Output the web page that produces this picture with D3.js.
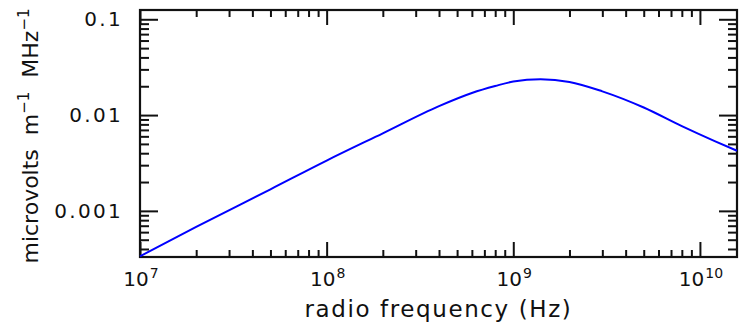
<!DOCTYPE html>
<html>
<head>
<meta charset="utf-8">
<script src="https://cdn.jsdelivr.net/npm/d3@7"></script>
<style>
  html, body { margin: 0; padding: 0; background: #fff; }
  svg { display: block; }
  text { font-family: "DejaVu Sans", "Liberation Sans", sans-serif; fill: #111; }
</style>
</head>
<body>
<svg id="chart" width="742" height="330"></svg>
<script>
// ---- data ----
const frequencies = [1e7, 2e7, 5e7, 1e8, 2e8, 4e8, 6e8, 8e8, 1e9, 1.4e9, 2e9, 3e9, 5e9, 8e9, 1.2e10, 1.58e10];
const fieldValues = [3.36e-4, 6.8e-4, 1.68e-3, 3.35e-3, 6.45e-3, 0.0124, 0.0170, 0.0201, 0.0224, 0.0236, 0.0222, 0.0177, 0.0120, 0.00767, 0.00535, 0.00424];
const xDomain = [1e7, 1.58e10];
const yDomain = [3.3e-4, 0.125];
const xMajorTicks = [1e7, 1e8, 1e9, 1e10];
const xTickExponents = ["7", "8", "9", "10"];
const yMajorTicks = [0.001, 0.01, 0.1];
const yTickLabels = ["0.001", "0.01", "0.1"];
const xTitle = "radio frequency (Hz)";

// ---- layout ----
const W = 742, H = 330;
const L = 140, R = 737, T = 10, B = 257;

const svg = d3.select("#chart");
const x = d3.scaleLog().domain(xDomain).range([L, R]);
const y = d3.scaleLog().domain(yDomain).range([B, T]);

const isPow10 = v => Math.abs(Math.log10(v) - Math.round(Math.log10(v))) < 1e-9;
const xMinor = x.ticks().filter(v => !isPow10(v));
const yMinor = y.ticks().filter(v => !isPow10(v));

function styleAxis(g) {
  g.select(".domain").remove();
  g.selectAll(".tick line").attr("stroke", "#111").attr("stroke-width", 2);
  g.selectAll(".tick text").remove();
}

// bottom & top ticks (inward)
const xMajLen = 15, xMinLen = 7, yMajLen = 18, yMinLen = 9;
svg.append("g").attr("transform", `translate(0,${B})`)
  .call(d3.axisBottom(x).tickValues(xMinor).tickSize(-xMinLen).tickFormat("")).call(styleAxis);
svg.append("g").attr("transform", `translate(0,${B})`)
  .call(d3.axisBottom(x).tickValues(xMajorTicks).tickSize(-xMajLen).tickFormat("")).call(styleAxis);
svg.append("g").attr("transform", `translate(0,${T})`)
  .call(d3.axisTop(x).tickValues(xMinor).tickSize(-xMinLen).tickFormat("")).call(styleAxis);
svg.append("g").attr("transform", `translate(0,${T})`)
  .call(d3.axisTop(x).tickValues(xMajorTicks).tickSize(-xMajLen).tickFormat("")).call(styleAxis);
// left & right ticks (inward)
svg.append("g").attr("transform", `translate(${L},0)`)
  .call(d3.axisLeft(y).tickValues(yMinor).tickSize(-yMinLen).tickFormat("")).call(styleAxis);
svg.append("g").attr("transform", `translate(${L},0)`)
  .call(d3.axisLeft(y).tickValues(yMajorTicks).tickSize(-yMajLen).tickFormat("")).call(styleAxis);
svg.append("g").attr("transform", `translate(${R},0)`)
  .call(d3.axisRight(y).tickValues(yMinor).tickSize(-yMinLen).tickFormat("")).call(styleAxis);
svg.append("g").attr("transform", `translate(${R},0)`)
  .call(d3.axisRight(y).tickValues(yMajorTicks).tickSize(-yMajLen).tickFormat("")).call(styleAxis);

// frame
svg.append("rect").attr("x", L).attr("y", T).attr("width", R - L).attr("height", B - T)
  .attr("fill", "none").attr("stroke", "#111").attr("stroke-width", 2.2);

// curve
const data = frequencies.map((f, i) => ({ f, v: fieldValues[i] }));
svg.append("path").datum(data)
  .attr("fill", "none").attr("stroke", "#0000ff").attr("stroke-width", 2)
  .attr("d", d3.line().x(d => x(d.f)).y(d => y(d.v)).curve(d3.curveMonotoneX));

// x tick labels
const xl = svg.append("g");
xMajorTicks.forEach((v, i) => {
  const t = xl.append("text").attr("x", x(v) + 1).attr("y", 286)
    .attr("text-anchor", "middle").attr("font-size", 20);
  t.append("tspan").text("10");
  t.append("tspan").attr("font-size", 14).attr("dy", -8).attr("dx", 1).text(xTickExponents[i]);
});

// y tick labels
yMajorTicks.forEach((v, i) => {
  svg.append("text").attr("x", 123).attr("y", y(v)).attr("dy", "0.36em")
    .attr("text-anchor", "end").attr("font-size", 20)
    .style("letter-spacing", "2.3px").text(yTickLabels[i]);
});

// x title
svg.append("text").attr("x", (L + R) / 2).attr("y", 317)
  .attr("text-anchor", "middle").attr("font-size", 23)
  .style("letter-spacing", "1.6px").text(xTitle);

// y title
const yt = svg.append("text")
  .attr("transform", `translate(37.5,136) rotate(-90)`)
  .attr("text-anchor", "middle").attr("font-size", 22)
  .style("white-space", "pre");
yt.append("tspan").text("microvolts  m");
yt.append("tspan").attr("font-size", 15).attr("dy", -9).text("\u22121");
yt.append("tspan").attr("dy", 9).text("  MHz");
yt.append("tspan").attr("font-size", 15).attr("dy", -9).text("\u22121");
</script>
</body>
</html>
